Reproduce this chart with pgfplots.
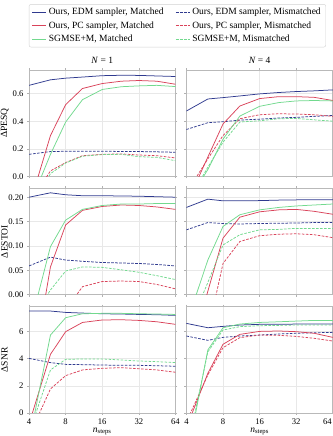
\documentclass[border=0pt]{standalone}
\usepackage{fontspec}
\setmainfont{Liberation Serif}
\usepackage{pgfplots}
\pgfplotsset{compat=1.18}
\usepackage{pgfplotstable}
\usepgfplotslibrary{groupplots}
\definecolor{cB}{HTML}{2F3A8F}
\definecolor{cR}{HTML}{D9435A}
\definecolor{cG}{HTML}{72D98E}

\pgfplotstableread{
x edmM pcM sgM edmX pcX sgX
4 0.66 -0.22 -0.22 0.16 -0.2 -0.25
6 0.70 0.296 0.16 0.18 0.04 0.02
8 0.712 0.52 0.394 0.182 0.10 0.097
11 0.72 0.637 0.556 0.182 0.15 0.146
16 0.73 0.673 0.63 0.182 0.16 0.158
23 0.733 0.69 0.65 0.181 0.163 0.16
32 0.732 0.695 0.656 0.18 0.155 0.143
45 0.728 0.69 0.66 0.178 0.15 0.138
64 0.724 0.668 0.651 0.175 0.134 0.114
}\pesqA
\pgfplotstableread{
x edmM pcM sgM edmX pcX sgX
4 0.474 -0.2 -0.2 0.34 -0.12 -0.2
6 0.561 0.14 0.05 0.389 0.127 0.066
8 0.571 0.38 0.27 0.396 0.296 0.248
11 0.583 0.51 0.437 0.408 0.418 0.394
16 0.598 0.564 0.508 0.415 0.447 0.403
23 0.608 0.578 0.535 0.423 0.454 0.418
32 0.615 0.578 0.547 0.428 0.452 0.42
45 0.62 0.573 0.55 0.435 0.447 0.41
64 0.627 0.55 0.547 0.442 0.435 0.40
}\pesqB
\pgfplotstableread{
x edmM pcM sgM edmX pcX sgX
4 0.200 -0.2 -0.072 0.059 -0.15 -0.06
6 0.209 0.057 0.0987 0.077 -0.08 0.0096
8 0.205 0.143 0.153 0.071 -0.032 0.0486
11 0.203 0.173 0.175 0.0685 0.0164 0.057
16 0.203 0.181 0.183 0.066 0.027 0.056
23 0.2025 0.184 0.186 0.065 0.028 0.051
32 0.202 0.183 0.186 0.064 0.027 0.046
45 0.201 0.18 0.187 0.062 0.021 0.039
64 0.200 0.175 0.187 0.059 0.012 0.031
}\estoiA
\pgfplotstableread{
x edmM pcM sgM edmX pcX sgX
4 0.179 -0.15 -0.06 0.133 -0.2 -0.08
6 0.196 0.007 0.071 0.148 -0.077 0.025
8 0.1925 0.116 0.14 0.146 0.064 0.102
11 0.1925 0.159 0.164 0.145 0.109 0.123
16 0.193 0.17 0.174 0.146 0.121 0.133
23 0.194 0.174 0.179 0.1466 0.124 0.134
32 0.1945 0.175 0.182 0.147 0.125 0.136
45 0.195 0.171 0.184 0.148 0.123 0.136
64 0.195 0.165 0.186 0.148 0.117 0.136
}\estoiB
\pgfplotstableread{
x edmM pcM sgM edmX pcX sgX
4 7.51 -0.8 -2.1 4.02 -1.7 -1.5
6 7.51 4.32 5.74 3.71 1.77 3.17
8 7.41 5.99 7.02 3.58 2.75 3.95
11 7.36 6.67 7.31 3.56 3.17 3.98
16 7.31 6.85 7.34 3.53 3.29 3.98
23 7.29 6.87 7.34 3.51 3.34 3.90
32 7.26 6.82 7.31 3.51 3.26 3.83
45 7.24 6.72 7.29 3.48 3.17 3.78
64 7.19 6.53 7.26 3.44 3.0 3.71
}\snrA
\pgfplotstableread{
x edmM pcM sgM edmX pcX sgX
4 6.6 -1.08 -3.5 5.67 -0.66 -3
6 6.28 2.92 4.64 5.35 2.80 4.5
8 6.38 5.06 6.28 5.57 4.81 6.11
11 6.48 5.79 6.55 5.67 5.55 6.36
16 6.53 6.01 6.67 5.74 5.74 6.43
23 6.53 6.04 6.72 5.82 5.72 6.45
32 6.55 5.99 6.77 5.87 5.64 6.48
45 6.55 5.87 6.82 5.91 5.5 6.48
64 6.55 5.57 6.82 5.94 5.3 6.48
}\snrB

\newcommand\sixplots[1]{%
  \addplot[cB, solid] table[x=x,y=edmM]{#1};
  \addplot[cB, mydash] table[x=x,y=edmX]{#1};
  \addplot[cR, solid] table[x=x,y=pcM]{#1};
  \addplot[cR, mydash] table[x=x,y=pcX]{#1};
  \addplot[cG, solid] table[x=x,y=sgM]{#1};
  \addplot[cG, mydash] table[x=x,y=sgX]{#1};
}

\tikzset{mydash/.style={dash pattern=on 2.6pt off 1.4pt}}

\begin{document}
\begin{tikzpicture}
\pgfplotsset{
  every axis/.append style={font=\fontsize{9.5}{11}\selectfont},
  /pgf/number format/assume math mode=true,
}
\begin{groupplot}[
  group style={group size=2 by 3, horizontal sep=11pt, vertical sep=12pt,
    x descriptions at=edge bottom, y descriptions at=edge left},
  width=146pt, height=106pt, scale only axis,
  xmode=log, log basis x=2, xmin=4, xmax=64,
  xtick={4,8,16,32,64}, xticklabels={4,8,16,32,64},
  tick label style={font=\fontsize{8.6}{10}\selectfont},
  grid=major, major grid style={gray!18, line width=0.4pt},
  axis line style={gray!55, line width=0.7pt},
  tick style={gray!60, line width=0.5pt}, major tick length=2pt, tick align=outside,
  every axis plot/.append style={line width=0.75pt},
  xlabel={\textit{n}\textsubscript{steps}},
  xlabel style={yshift=3pt},
  every axis y label/.style={at={(rel axis cs:-0.167,0.5)}, rotate=90, anchor=center},
  title style={yshift=-3pt},
  legend style={font=\fontsize{9.5}{11}\selectfont, draw=gray!35, rounded corners=2pt,
    /tikz/every even column/.append style={column sep=10pt},
    row sep=1.2pt, inner xsep=3pt, inner ysep=2pt},
  legend cell align=left,
  legend image code/.code={\draw[#1] (0pt,0pt) -- (14pt,0pt);},
]
\nextgroupplot[title={\textit{N} = 1}, ylabel={ΔPESQ}, ymin=0, ymax=0.77,
  ytick={0,0.2,0.4,0.6}, yticklabel style={/pgf/number format/.cd,fixed,fixed zerofill,precision=1},
  legend columns=2, legend style={at={(1.0137,1.215)}, anchor=south}]
\coordinate (TL) at (rel axis cs:0,1);
\sixplots{\pesqA}
\legend{Ours{,} EDM sampler{,} Matched, Ours{,} EDM sampler{,} Mismatched,
  Ours{,} PC sampler{,} Matched, Ours{,} PC sampler{,} Mismatched,
  SGMSE+M{,} Matched, SGMSE+M{,} Mismatched}
\nextgroupplot[title={\textit{N} = 4}, ymin=0, ymax=0.77, ytick={0,0.2,0.4,0.6}]
\sixplots{\pesqB}
\nextgroupplot[ylabel={ΔESTOI}, ymin=0, ymax=0.218,
  ytick={0,0.05,0.10,0.15,0.20}, yticklabel style={/pgf/number format/.cd,fixed,fixed zerofill,precision=2}]
\sixplots{\estoiA}
\nextgroupplot[ymin=0, ymax=0.218, ytick={0,0.05,0.10,0.15,0.20}]
\sixplots{\estoiB}
\nextgroupplot[ylabel={ΔSNR}, ymin=0, ymax=7.83, ytick={0,2,4,6}]
\sixplots{\snrA}
\nextgroupplot[ymin=0, ymax=7.83, ytick={0,2,4,6},
  xticklabels={4,8,16,32,{\makebox[0pt][r]{64\hspace{1pt}}}}]
\coordinate (BR) at (rel axis cs:1,0);
\sixplots{\snrB}
\end{groupplot}
\pgfresetboundingbox
\path[use as bounding box] ([xshift=-29pt,yshift=70pt]TL) rectangle ([yshift=-23pt]BR);
\end{tikzpicture}
\end{document}
